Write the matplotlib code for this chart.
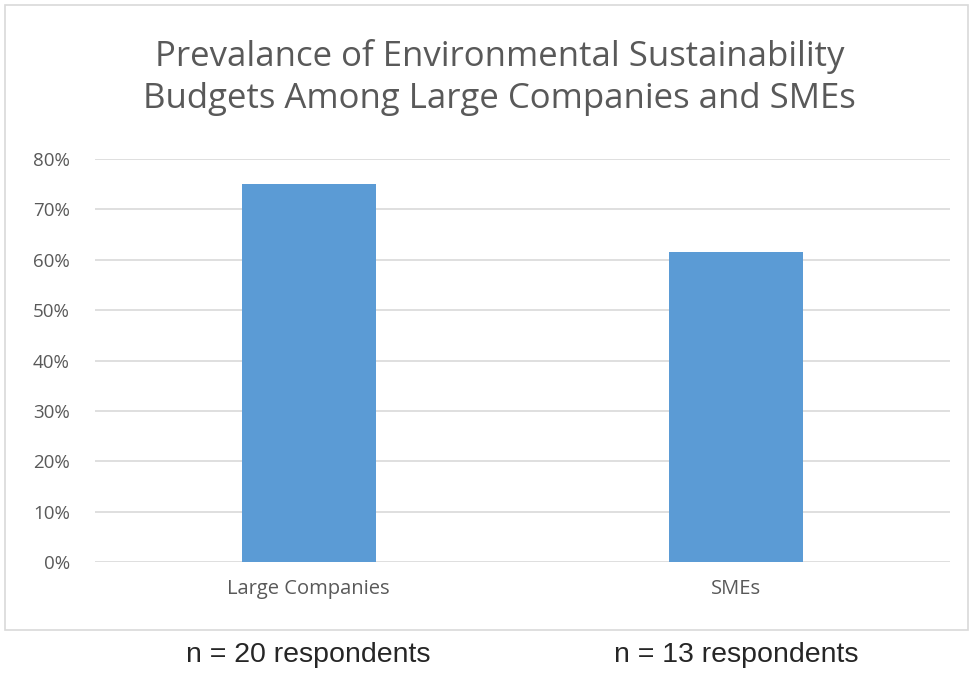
import matplotlib
matplotlib.use("Agg")
import matplotlib.pyplot as plt
from matplotlib.patches import Rectangle
from matplotlib.ticker import PercentFormatter

# Data
categories = ["Large Companies", "SMEs"]
shares = [0.75, 0.615]          # 15/20 and 8/13
respondents = [20, 13]
y_ticks = [0, 0.1, 0.2, 0.3, 0.4, 0.5, 0.6, 0.7, 0.8]

title = "Prevalance of Environmental Sustainability\nBudgets Among Large Companies and SMEs"

bar_color = "#5b9bd5"
grid_color = "#d9d9d9"
text_color = "#595959"

fig = plt.figure(figsize=(9.7, 6.75), dpi=100)
ax = fig.add_axes([0.0979, 0.1674, 0.8815, 0.597])

# chart frame
fig.patches.append(Rectangle((5 / 970, 1 - 630 / 675), 963 / 970, 625 / 675,
                             transform=fig.transFigure, fill=False,
                             edgecolor=grid_color, linewidth=1.2))

x = list(range(len(categories)))
ax.bar(x, shares, width=0.313, color=bar_color, zorder=3)

ax.set_xlim(-0.5, 1.5)
ax.set_ylim(0, 0.8)
ax.set_yticks(y_ticks)
ax.yaxis.set_major_formatter(PercentFormatter(1.0, decimals=0))
ax.set_xticks(x)
ax.set_xticklabels(categories)

ax.grid(axis="y", color=grid_color, linewidth=1.2, zorder=0)
for s in ax.spines.values():
    s.set_visible(False)
ax.tick_params(axis="both", length=0, colors=text_color)
ax.tick_params(axis="y", pad=18, labelsize=13.5)
ax.tick_params(axis="x", pad=12, labelsize=14.5)
for lab in ax.get_xticklabels() + ax.get_yticklabels():
    lab.set_family("Open Sans")

fig.text(0.515, 0.885, title, ha="center", va="center", fontsize=25,
         color=text_color, family="Open Sans", linespacing=1.3)

# respondent counts under the chart
for xi, n in zip(x, respondents):
    xf = fig.transFigure.inverted().transform(ax.transData.transform((xi, 0)))[0]
    fig.text(xf, 1 - 655 / 675, f"n = {n} respondents", ha="center", va="center",
             fontsize=20.5, color="#262626", family="Liberation Sans")

fig.savefig("out.png", dpi=100, facecolor="white")
